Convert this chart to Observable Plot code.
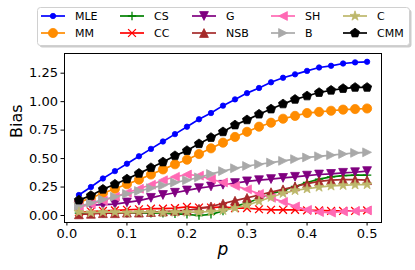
<!DOCTYPE html>
<html>
<head>
<meta charset="utf-8">
<script src="https://cdn.jsdelivr.net/npm/d3@7"></script>
<script src="https://cdn.jsdelivr.net/npm/@observablehq/plot@0.6"></script>
<style>
  html, body { margin: 0; padding: 0; background: white; }
  #wrap { position: relative; width: 415px; height: 270px; font-family: "DejaVu Sans", sans-serif; }
  #legend { position: absolute; left: 37px; top: 7px; }
</style>
</head>
<body>
<div id="wrap"></div>
<script>
// ---- data ----
const p = [0.02,0.04,0.06,0.08,0.10,0.12,0.14,0.16,0.18,0.20,0.22,0.24,0.26,0.28,0.30,0.32,0.34,0.36,0.38,0.40,0.42,0.44,0.46,0.48,0.50];
const MLE = [0.18,0.25,0.325,0.39,0.455,0.52,0.585,0.65,0.715,0.78,0.845,0.90,0.965,1.02,1.075,1.12,1.17,1.21,1.24,1.27,1.30,1.315,1.335,1.345,1.35];
const MM  = [0.115,0.155,0.195,0.235,0.275,0.315,0.36,0.405,0.45,0.49,0.54,0.59,0.64,0.69,0.735,0.78,0.815,0.85,0.875,0.90,0.91,0.92,0.93,0.935,0.94];
const CS  = [0.02,0.02,0.02,0.025,0.02,0.025,0.02,0.02,0.015,0.01,0.0,0.01,0.04,0.08,0.11,0.15,0.19,0.22,0.255,0.29,0.32,0.34,0.35,0.355,0.355];
const CC  = [0.03,0.035,0.04,0.045,0.05,0.055,0.06,0.06,0.065,0.075,0.07,0.07,0.075,0.065,0.065,0.055,0.05,0.05,0.05,0.045,0.045,0.04,0.04,0.04,0.045];
const G   = [0.09,0.09,0.095,0.10,0.115,0.13,0.155,0.18,0.20,0.22,0.24,0.255,0.27,0.285,0.30,0.31,0.32,0.33,0.34,0.35,0.36,0.365,0.375,0.38,0.39];
const NSB = [0.01,0.015,0.02,0.02,0.025,0.025,0.03,0.035,0.04,0.045,0.06,0.08,0.105,0.13,0.155,0.18,0.205,0.23,0.255,0.28,0.30,0.31,0.315,0.315,0.31];
const SH  = [0.07,0.10,0.13,0.165,0.20,0.235,0.27,0.31,0.34,0.36,0.35,0.32,0.29,0.26,0.23,0.19,0.155,0.12,0.08,0.05,0.03,0.025,0.035,0.04,0.045];
const B   = [0.08,0.11,0.14,0.165,0.19,0.215,0.24,0.265,0.29,0.31,0.335,0.365,0.39,0.415,0.435,0.45,0.465,0.48,0.495,0.51,0.52,0.53,0.54,0.55,0.555];
const C   = [0.03,0.025,0.03,0.03,0.025,0.03,0.03,0.025,0.03,0.03,0.03,0.035,0.045,0.065,0.09,0.125,0.16,0.195,0.22,0.235,0.25,0.26,0.265,0.27,0.272];
const CMM = [0.135,0.175,0.23,0.275,0.32,0.37,0.42,0.47,0.525,0.57,0.63,0.685,0.735,0.795,0.84,0.89,0.935,0.98,1.02,1.05,1.08,1.10,1.115,1.125,1.125];
const seriesNames = ["MLE","MM","CS","CC","G","NSB","SH","B","C","CMM"];
const seriesValues = [MLE, MM, CS, CC, G, NSB, SH, B, C, CMM];
const xTicks = [0.0,0.1,0.2,0.3,0.4,0.5];
const yTicks = [0.00,0.25,0.50,0.75,1.00,1.25];
const xLabel = "p";
const yLabel = "Bias";

// ---- marker shapes (matplotlib-like) ----
function poly(pts){ return { draw(ctx, size){ const h = Math.sqrt(size/Math.PI); pts.forEach(([a,b],i)=> i? ctx.lineTo(a*h,b*h) : ctx.moveTo(a*h,b*h)); ctx.closePath(); } }; }
const symUp = poly([[0,-1],[-1,1],[1,1]]);
const symDown = poly([[0,1],[-1,-1],[1,-1]]);
const symLeft = poly([[-1,0],[1,-1],[1,1]]);
const symRight = poly([[1,0],[-1,-1],[-1,1]]);
const symPent = poly(d3.range(5).map(k => { const a = -Math.PI/2 + k*2*Math.PI/5; return [Math.cos(a), Math.sin(a)]; }));
const symStar = poly(d3.range(10).map(k => { const a = -Math.PI/2 + k*Math.PI/5; const rr = k%2 ? 0.382 : 1; return [rr*Math.cos(a), rr*Math.sin(a)]; }));
const symPlus = { draw(ctx, size){ const h = Math.sqrt(size/Math.PI); ctx.moveTo(-h,0); ctx.lineTo(h,0); ctx.moveTo(0,-h); ctx.lineTo(0,h); } };
const symX = { draw(ctx, size){ const h = Math.sqrt(size/Math.PI)*0.75; ctx.moveTo(-h,-h); ctx.lineTo(h,h); ctx.moveTo(-h,h); ctx.lineTo(h,-h); } };
const symCircle = { draw(ctx, size){ const h = Math.sqrt(size/Math.PI); ctx.moveTo(h,0); ctx.arc(0,0,h,0,2*Math.PI); } };

const styles = {
  MLE: {color:"#0000ff", sym:symCircle, r:2.7, filled:true},
  MM:  {color:"#ff8c00", sym:symCircle, r:4.6, filled:true},
  CS:  {color:"#008000", sym:symPlus, r:4.2, filled:false},
  CC:  {color:"#ff0000", sym:symX, r:5.2, filled:false},
  G:   {color:"#800080", sym:symDown, r:4.4, filled:true},
  NSB: {color:"#a52a2a", sym:symUp, r:4.4, filled:true},
  SH:  {color:"#ff69b4", sym:symLeft, r:4.4, filled:true},
  B:   {color:"#a9a9a9", sym:symRight, r:4.4, filled:true},
  C:   {color:"#bdb76b", sym:symStar, r:5.2, filled:true},
  CMM: {color:"#000000", sym:symPent, r:4.8, filled:true}
};

const rows = seriesNames.flatMap((name, si) => p.map((x, i) => ({p: x, v: seriesValues[si][i], name})));

const seriesMarks = seriesNames.flatMap(name => {
  const s = styles[name];
  const data = rows.filter(d => d.name === name);
  return [
    Plot.line(data, {x: "p", y: "v", stroke: s.color, strokeWidth: 1.7}),
    Plot.dot(data, {x: "p", y: "v", symbol: s.sym, r: s.r,
      fill: s.filled ? s.color : "none", stroke: s.color, strokeWidth: s.filled ? 0.8 : 1.3})
  ];
});

const chart = Plot.plot({
  width: 415, height: 270,
  marginLeft: 64, marginRight: 34, marginTop: 53, marginBottom: 48,
  x: {domain: [-0.004, 0.524]},
  y: {domain: [-0.0615, 1.423]},
  style: {fontFamily: "DejaVu Sans", fontSize: "13px", color: "black", background: "white"},
  marks: [
    ...seriesMarks,
    Plot.frame({stroke: "black", strokeWidth: 1}),
    Plot.axisX({ticks: xTicks, tickFormat: d => d.toFixed(1), tickSize: 3.5, tickPadding: 3, label: null, fontSize: 13}),
    Plot.axisY({ticks: yTicks, tickFormat: d => d.toFixed(2), tickSize: 3.5, tickPadding: 3, label: null, fontSize: 13}),
    Plot.text([yLabel], {text: d => d, frameAnchor: "left", dx: -48, rotate: -90, fontSize: 16}),
    Plot.text([xLabel], {text: d => d, frameAnchor: "bottom", dy: 32, fontSize: 17, fontStyle: "italic"})
  ]
});
const wrap = document.getElementById("wrap");
wrap.appendChild(chart);

// ---- legend ----
const legCols = [[0,1],[2,3],[4,5],[6,7],[8,9]];
const colX = [4, 83, 155, 234, 306];  // relative to legend box
const rowY = [9, 26];
const lw = 372, lh = 38;
const lsvg = d3.create("svg").attr("width", lw + 4).attr("height", lh + 4)
  .style("position","absolute").style("left","37px").style("top","7px").style("overflow","visible");
lsvg.append("rect").attr("x", 2.5).attr("y", 2.5).attr("width", lw).attr("height", lh).attr("rx", 3)
  .attr("fill", "#999").attr("opacity", 0.5);
lsvg.append("rect").attr("x", 0.5).attr("y", 0.5).attr("width", lw).attr("height", lh).attr("rx", 3)
  .attr("fill", "white").attr("stroke", "#d0d0d0");
legCols.forEach((col, ci) => col.forEach((si, ri) => {
  const name = seriesNames[si], s = styles[name];
  const x0 = colX[ci], y0 = rowY[ri];
  lsvg.append("line").attr("x1", x0).attr("x2", x0 + 24).attr("y1", y0).attr("y2", y0)
    .attr("stroke", s.color).attr("stroke-width", 1.7);
  lsvg.append("path").attr("transform", `translate(${x0 + 12},${y0})`)
    .attr("d", d3.symbol(s.sym, s.r * s.r * Math.PI)())
    .attr("fill", s.filled ? s.color : "none").attr("stroke", s.color).attr("stroke-width", s.filled ? 0.8 : 1.3);
  lsvg.append("text").attr("x", x0 + 34).attr("y", y0).attr("dy", "0.36em")
    .attr("font-family", "DejaVu Sans").attr("font-size", 11).attr("fill", "black").text(name);
}));
wrap.appendChild(lsvg.node());
</script>
</body>
</html>
